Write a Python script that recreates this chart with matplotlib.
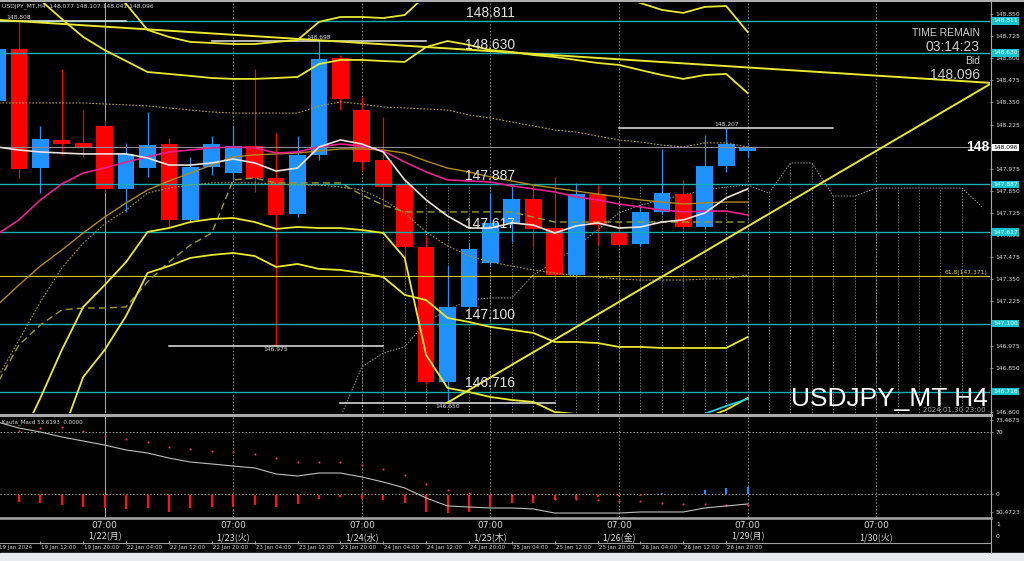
import numpy as np
import matplotlib
matplotlib.use("Agg")
import matplotlib.pyplot as plt
from matplotlib.patches import Rectangle
from matplotlib.transforms import blended_transform_factory

plt.rcParams['font.family'] = ['DejaVu Sans']

# ---------------- data (USDJPY_MT H4) ----------------
opens = [148.358, 148.652, 147.979, 148.138, 148.121, 148.217, 147.861, 147.979, 148.115, 147.686,
         147.985, 147.951, 148.104, 147.923, 147.719, 148.053, 148.601, 148.307, 148.025, 147.883,
         147.533, 146.770, 147.194, 147.442, 147.669, 147.804, 147.640, 147.375, 147.832, 147.612,
         147.550, 147.731, 147.832, 147.646, 147.991, 148.077]
highs = [148.700, 148.808, 148.217, 148.539, 148.307, 148.251, 148.121, 148.296, 148.149, 148.042,
         148.160, 148.223, 148.539, 148.177, 148.160, 148.698, 148.618, 148.381, 148.268, 147.912,
         147.595, 147.431, 147.555, 147.838, 147.872, 147.883, 147.929, 147.895, 147.883, 147.674,
         147.770, 148.087, 147.912, 148.166, 148.207, 148.107]
lows = [148.300, 147.923, 147.838, 148.053, 148.042, 147.838, 147.731, 147.929, 147.646, 147.674,
        147.940, 147.912, 147.844, 146.975, 147.705, 148.025, 148.307, 147.968, 147.753, 147.375,
        146.758, 146.650, 147.182, 147.431, 147.561, 147.533, 147.363, 147.363, 147.544, 147.533,
        147.539, 147.719, 147.629, 147.635, 147.957, 148.041]
closes = [148.652, 147.974, 148.143, 148.115, 148.098, 147.861, 148.059, 148.109, 147.686, 147.985,
          148.115, 148.104, 147.923, 147.714, 148.053, 148.596, 148.370, 148.013, 147.872, 147.533,
          146.770, 147.194, 147.522, 147.669, 147.804, 147.635, 147.375, 147.832, 147.657, 147.544,
          147.731, 147.838, 147.646, 147.991, 148.115, 148.096]

# outer bands (start bar index given separately)
band_a = [149.212, 149.070, 148.929, 148.822, 148.720, 148.646, 148.584, 148.522, 148.511, 148.500,
          148.488, 148.483, 148.483, 148.488, 148.494, 148.567, 148.590, 148.590, 148.584, 148.579,
          148.663, 148.697, 148.675, 148.646, 148.635, 148.618, 148.607, 148.590, 148.573, 148.562,
          148.533, 148.505, 148.483, 148.505, 148.511, 148.403]
band_a_start = 0
band_b = [149.183, 149.042, 148.907, 148.760, 148.720, 148.692, 148.686, 148.680, 148.680, 148.692,
          148.703, 148.805, 148.833, 148.833, 148.827, 148.844, 148.957, 149.070, 149.127, 149.155,
          149.155, 149.127, 149.099, 149.042, 148.997, 148.957, 148.912, 148.873, 148.856, 148.890,
          148.895, 148.748]
band_b_start = 4
band_c = [146.425, 146.679, 146.951, 147.194, 147.318, 147.448, 147.618, 147.640, 147.674, 147.691,
          147.697, 147.674, 147.635, 147.646, 147.640, 147.640, 147.629, 147.612, 147.471, 146.922,
          146.736, 146.713, 146.685, 146.668, 146.657, 146.600, 146.589, 146.589, 146.566, 146.566,
          146.589, 146.555, 146.566, 146.612, 146.679]
band_c_start = 1
band_d = [146.125, 146.470, 146.798, 146.951, 147.143, 147.386, 147.425, 147.471, 147.488, 147.499,
          147.482, 147.420, 147.437, 147.409, 147.403, 147.386, 147.363, 147.262, 147.233, 147.132,
          147.109, 147.081, 147.064, 147.047, 146.996, 146.996, 146.990, 146.968, 146.968, 146.962,
          146.962, 146.962, 146.962, 147.024]
band_d_start = 2

mid_dotted = [148.347, 148.347, 148.347, 148.347, 148.347, 148.341, 148.336, 148.330, 148.319, 148.307,
              148.296, 148.290, 148.290, 148.290, 148.290, 148.330, 148.353, 148.341, 148.324, 148.319,
              148.313, 148.307, 148.279, 148.262, 148.239, 148.217, 148.194, 148.183, 148.160, 148.138,
              148.126, 148.109, 148.098, 148.121, 148.121, 148.098]
low_dotted = [146.792, 147.007, 147.222, 147.414, 147.555, 147.663, 147.742, 147.838, 147.866, 147.883,
              147.895, 147.895, 147.895, 147.889, 147.883, 147.883, 147.872, 147.855, 147.799, 147.725,
              147.618, 147.539, 147.482, 147.448, 147.425, 147.403, 147.386, 147.369, 147.363, 147.352,
              147.346, 147.346, 147.346, 147.352, 147.352, 147.375]
gold_ma = [147.205, 147.318, 147.425, 147.516, 147.612, 147.702, 147.782, 147.855, 147.906, 147.951,
           147.996, 148.042, 148.053, 148.059, 148.064, 148.076, 148.087, 148.087, 148.081, 148.064,
           148.019, 147.979, 147.957, 147.929, 147.906, 147.883, 147.866, 147.849, 147.832, 147.816,
           147.799, 147.787, 147.776, 147.782, 147.787, 147.787]
kijun_dashed = [146.764, 146.979, 147.092, 147.177, 147.188, 147.188, 147.194, 147.335, 147.448, 147.544,
                147.612, 147.912, 147.923, 147.895, 147.895, 147.895, 147.895, 147.827, 147.770, 147.731,
                147.731, 147.731, 147.731, 147.731, 147.731, 147.702, 147.674, 147.674, 147.674, 147.674,
                147.674, 147.674, 147.674, 147.674, 147.674, 147.674]
white_ma = [148.098, 148.081, 148.070, 148.064, 148.059, 148.059, 148.059, 148.036, 147.996, 147.996,
            148.008, 148.030, 148.008, 147.962, 147.979, 148.098, 148.138, 148.115, 148.070, 147.912,
            147.799, 147.708, 147.640, 147.640, 147.669, 147.657, 147.612, 147.652, 147.669, 147.640,
            147.646, 147.674, 147.686, 147.725, 147.810, 147.861]
magenta_ma = [147.606, 147.686, 147.799, 147.889, 147.951, 147.979, 148.013, 148.042, 148.070, 148.081,
              148.093, 148.098, 148.093, 148.064, 148.070, 148.098, 148.115, 148.104, 148.076, 148.013,
              147.957, 147.912, 147.906, 147.900, 147.878, 147.861, 147.844, 147.816, 147.799, 147.776,
              147.759, 147.742, 147.731, 147.736, 147.736, 147.714]
span = [146.570, 146.855, 146.934, 146.968, 147.109, 147.177, 147.233, 147.245, 147.245, 147.375,
        147.448, 147.533, 147.629, 147.725, 147.770, 147.799, 147.827, 147.855, 147.872, 147.883,
        147.838, 148.008, 148.008, 147.821, 147.821, 147.866, 147.866, 147.866, 147.866, 147.866,
        147.753]
span_start = 16
cloud_top = [147.883] * 18 + [147.883, 147.838, 148.008, 148.008, 147.821, 147.821,
                              147.866, 147.866, 147.866, 147.866, 147.866]
cloud_start = 17
cyan_short = [146.590, 146.634, 146.674]
cyan_start = 33

levels = [148.811, 148.630, 147.887, 147.617, 147.100, 146.716]
fib_level = 147.371
bid = 148.096
marks = [("148.808", 1, 148.808, 'above'), ("148.698", 15, 148.698, 'above'),
         ("148.207", 34, 148.207, 'above'), ("146.975", 13, 146.975, 'below'),
         ("146.650", 21, 146.650, 'below')]

price_ticks = [146.600, 146.725, 146.850, 146.975, 147.100, 147.225, 147.350, 147.475, 147.600,
               147.725, 147.850, 147.975, 148.100, 148.225, 148.350, 148.475, 148.600, 148.725, 148.850]
price_tick_labels = ['146.600', '', '146.850', '146.975', '', '147.225', '147.350', '147.475', '147.600',
                     '147.725', '147.850', '147.975', '', '148.225', '148.350', '148.475', '148.600',
                     '148.725', '148.850']

# oscillator sub-window
osc_bars = [-9.0, -10.2, -12.4, -14.7, -15.8, -16.9, -15.8, -20.3, -15.8, -14.7, -14.7, -12.4, -14.7,
            -11.3, -5.6, -3.4, -5.6, -6.8, -10.2, -20.3, -21.5, -20.3, -14.7, -10.2, -10.2, -6.8,
            -5.6, -3.4, -2.3, -2.3, 1.1, -1.1, 4.5, 6.8, 7.9]
osc_dots = [71.1, 74.5, 75.6, 71.1, 65.5, 62.1, 58.7, 53.1, 50.8, 48.5, 47.4, 45.2, 40.6, 36.1, 36.1,
            36.1, 32.7, 28.2, 21.4, 11.3, 4.5, 1.1, -1.1, -1.1, -3.4, -5.6, -5.6, -6.8, -7.9, -7.9,
            -10.2, -11.3, -11.3, -12.4, -12.4]
osc_start = 1
osc_line = [81.3, 74.5, 70.0, 64.4, 59.8, 55.3, 49.7, 46.3, 40.6, 36.1, 33.9, 31.6, 29.4, 22.6, 20.3,
            23.7, 23.7, 19.2, 13.5, 6.8, -4.5, -13.5, -14.7, -15.8, -15.8, -16.9, -21.5, -21.5, -21.5,
            -21.5, -20.3, -20.3, -20.3, -15.8, -13.5, -11.3]
osc_ticks = [83.5, 70, 0, -20.3]
osc_tick_labels = ['73.4675', '70', '0', '50.4723']

day_bars = [5, 11, 17, 23, 29, 35, 41]
day_labels = ['1/22(月)', '1/23(火)', '1/24(水)', '1/25(木)', '1/26(金)', '1/29(月)', '1/30(火)']
time_bars = list(range(0, 35, 2))
time_labels = ['19 Jan 2024', '19 Jan 12:00', '19 Jan 20:00', '22 Jan 04:00', '22 Jan 12:00',
               '22 Jan 20:00', '23 Jan 04:00', '23 Jan 12:00', '23 Jan 20:00', '24 Jan 04:00',
               '24 Jan 12:00', '24 Jan 20:00', '25 Jan 04:00', '25 Jan 12:00', '25 Jan 20:00',
               '26 Jan 04:00', '26 Jan 12:00', '26 Jan 20:00']

# ---------------- layout ----------------
W, H = 1024, 561
fig = plt.figure(figsize=(W / 100, H / 100), dpi=100)
fig.patch.set_facecolor('black')


def rect(x0, y0, x1, y1):
    return [x0 / W, 1 - y1 / H, (x1 - x0) / W, (y1 - y0) / H]


XLIM = (0.117, 46.31)
LIB = ['Liberation Sans', 'DejaVu Sans']
JP = ['Noto Sans CJK JP', 'DejaVu Sans']

bg = fig.add_axes([0, 0, 1, 1], zorder=0)
bg.set_xlim(0, W)
bg.set_ylim(H, 0)
bg.axis('off')
bg.add_patch(Rectangle((0, 0), W, H, color='black'))
bg.add_patch(Rectangle((0, 553), W, 8, color='#e8ecf1'))
bg.plot([0, W], [1.2, 1.2], color='#b4b4b4', lw=1.4)
bg.plot([0, 991], [414.5, 414.5], color='#a8a8a8', lw=2.2)
bg.plot([0, 991], [518, 518], color='#a8a8a8', lw=1.8)
bg.plot([0, 991], [543, 543], color='#a0a0a0', lw=0.8)
bg.plot([990.5, 990.5], [2, 553], color='#a8a8a8', lw=0.8)

# ---------------- main window ----------------
ax = fig.add_axes(rect(0, 3, 990, 413), zorder=2)
ax.set_facecolor('none')
ax.set_xlim(*XLIM)
ax.set_ylim(146.5945, 148.912)

# day separators
for i, d in enumerate(day_bars):
    ax.axvline(d, color='#a0a0a0' if i == 0 else '#8c8c8c', lw=0.8 if i == 0 else 0.7,
               ls='-' if i == 0 else (0, (1.5, 2)), zorder=1)

# cloud hatch
ck = np.arange(cloud_start, cloud_start + len(cloud_top))
ax.vlines(ck, 146.5, cloud_top, colors='#8a8a8a', lw=0.6, linestyles=(0, (1.5, 2)), zorder=1)
sk = np.arange(span_start, span_start + len(span))
ax.plot(sk, span, color='#9a9a9a', lw=0.7, ls=(0, (1.5, 1.5)), zorder=1)

# candles
bars = np.arange(len(opens))
o, h, l, c = map(np.array, (opens, highs, lows, closes))
cols = np.where(c >= o, '#1e90ff', '#ff0000')
ax.vlines(bars, l, h, colors=cols, lw=0.9, zorder=2)
ax.bar(bars, np.maximum(np.abs(c - o), 0.007), bottom=np.minimum(o, c), width=0.78,
       color=cols, linewidth=0, zorder=2.1)

# horizontal levels
for lv in levels:
    ax.axhline(lv, color='#17b0b0', lw=1.0, zorder=3)
    ax.annotate(f'{lv:.3f}', xy=(23.0, lv), xytext=(0, 0.8), textcoords='offset points',
                ha='center', va='bottom', fontsize=10, color='#e2e2e2', family=LIB, zorder=7)
ax.axhline(fib_level, color='#c8c810', lw=0.8, zorder=3)
ax.annotate(f'61.8({fib_level:.3f})', xy=(46.2, fib_level), xytext=(0, 0.5), textcoords='offset points',
            ha='right', va='bottom', fontsize=4.3, color='#d8d820', zorder=7)
ax.axhline(bid, color='#8c8c8c', lw=0.8, zorder=3)

# high / low markers
for txt, kb, pr, pos in marks:
    ax.plot([kb - 5, kb + 5], [pr, pr], color='#e6e6e6', lw=1.1, zorder=4)
    ax.annotate(txt, xy=(kb, pr), xytext=(0, 0.8 if pos == 'above' else -0.8), textcoords='offset points',
                ha='center', va='bottom' if pos == 'above' else 'top', fontsize=4.3, color='#d8d8d8', zorder=7)

# indicator lines
ax.plot(np.arange(len(mid_dotted)), mid_dotted, color='#b4a02c', lw=0.8, ls=(0, (1.5, 1.5)), zorder=4)
ax.plot(np.arange(len(low_dotted)), low_dotted, color='#a89a2a', lw=0.8, ls=(0, (1.5, 1.5)), zorder=4)
ax.plot(np.arange(len(gold_ma)), gold_ma, color='#b08a1c', lw=1.0, zorder=4)
ax.plot(np.arange(len(kijun_dashed)), kijun_dashed, color='#9a9a2c', lw=1.0, ls=(0, (5, 3)), zorder=4)
ax.plot(np.arange(len(magenta_ma)), magenta_ma, color='#e8208e', lw=1.2, zorder=4.2)
ax.plot(np.arange(len(white_ma)), white_ma, color='#ece4dc', lw=1.2, zorder=4.3)
for band, st in ((band_a, band_a_start), (band_b, band_b_start), (band_c, band_c_start), (band_d, band_d_start)):
    ax.plot(np.arange(st, st + len(band)), band, color='#e8e830', lw=1.3, zorder=4.5)
ax.plot(np.arange(cyan_start, cyan_start + len(cyan_short)), cyan_short, color='#20d0e0', lw=1.3, zorder=4.5)

# trend lines (touch points)
ax.plot([0.117, 46.4], [148.816, 148.460], color='#e8e830', lw=1.4, zorder=4.6)
ax.plot([20.98, 46.4], [146.652, 148.460], color='#e8e830', lw=1.4, zorder=4.6)

# right price scale
ax.yaxis.tick_right()
ax.set_yticks(price_ticks)
ax.set_yticklabels(price_tick_labels)
ax.tick_params(axis='y', color='#a0a0a0', labelcolor='#dcdcdc', labelsize=4.3, length=2.5,
               width=0.6, pad=1.5)
ax.set_xticks([])
for s in ax.spines.values():
    s.set_visible(False)
tr = blended_transform_factory(ax.transAxes, ax.transData)
for lv in levels:
    ax.text(1.003, lv, f'{lv:.3f}', transform=tr, fontsize=4.3, color='white', va='center', ha='left',
            bbox=dict(facecolor='#14c4c8', edgecolor='none', pad=0.9), clip_on=False, zorder=8)
ax.text(1.003, bid, f'{bid:.3f}', transform=tr, fontsize=4.3, color='black', va='center', ha='left',
        bbox=dict(facecolor='white', edgecolor='none', pad=0.9), clip_on=False, zorder=8)

# ---------------- oscillator window ----------------
ax2 = fig.add_axes(rect(0, 416, 990, 517), zorder=2)
ax2.set_facecolor('none')
ax2.set_xlim(*XLIM)
ax2.set_ylim(-25.97, 88.06)
for i, d in enumerate(day_bars):
    ax2.axvline(d, color='#a0a0a0' if i == 0 else '#8c8c8c', lw=0.8 if i == 0 else 0.7,
                ls='-' if i == 0 else (0, (1.5, 2)), zorder=1)
ax2.axhline(70, color='#a0a0a0', lw=0.7, ls=(0, (1.5, 2)))
ax2.axhline(0, color='#a0a0a0', lw=0.7, ls=(0, (1.5, 2)))
ob = np.arange(osc_start, osc_start + len(osc_bars))
ov = np.array(osc_bars)
ax2.vlines(ob, np.where(ov < 0, -1.0, 0.0), ov, colors=np.where(ov < 0, '#ff1020', '#2090ff'), lw=1.6, zorder=3)
ax2.scatter(ob, osc_dots, s=2.2, color='#ff3070', linewidths=0, zorder=4)
ax2.plot(np.arange(len(osc_line)), osc_line, color='#bdbdbd', lw=0.8, zorder=4)
ax2.yaxis.tick_right()
ax2.set_yticks(osc_ticks)
ax2.set_yticklabels(osc_tick_labels)
ax2.tick_params(axis='y', color='#a0a0a0', labelcolor='#dcdcdc', labelsize=4.3, length=2.5,
                width=0.6, pad=1.5)
ax2.set_xticks([])
for s in ax2.spines.values():
    s.set_visible(False)

# ---------------- time strip ----------------
ax3 = fig.add_axes(rect(0, 519, 990, 553), zorder=2)
ax3.set_facecolor('none')
ax3.set_xlim(*XLIM)
ax3.set_ylim(34, 0)
ax3.axis('off')
for d, lab in zip(day_bars, day_labels):
    ax3.text(d, 6.5, '07:00', ha='center', va='center', fontsize=6.5, color='#d8d8d8')
    ax3.text(d, 18, lab, ha='center', va='center', fontsize=6.5, color='#d8d8d8', family=JP)
ax3.vlines(time_bars, 21.5, 24.5, colors='#b0b0b0', lw=0.6)
for tb, lab in zip(time_bars, time_labels):
    ax3.text(tb + 0.05, 28.5, lab, ha='left', va='center', fontsize=4.0, color='#d0d0d0')

# ---------------- overlay texts ----------------
def ftext(x, y, s, **kw):
    fig.text(x / W, 1 - y / H, s, **kw)

ftext(2, 6.5, 'USDJPY_MT,H4  148.077 148.107 148.041 148.096', fontsize=4.3, color='#d8d8d8', va='center')
ftext(2, 422, 'Kauta_Macd 53.6193  0.0000', fontsize=4.0, color='#d8d8d8', va='center')
ftext(980, 33, 'TIME REMAIN', fontsize=7.5, color='#cfcfcf', ha='right', va='center', family=LIB)
ftext(980, 47, '03:14:23', fontsize=10, color='#cfcfcf', ha='right', va='center', family=LIB)
ftext(980, 61, 'Bid', fontsize=7.5, color='#cfcfcf', ha='right', va='center', family=LIB)
ftext(980, 75, '148.096', fontsize=10, color='#cfcfcf', ha='right', va='center', family=LIB)
ftext(989, 147, '148', fontsize=10, color='white', ha='right', va='center', weight='bold', family=LIB)
ftext(988, 406, 'USDJPY_MT H4', fontsize=19, color='white', ha='right', va='baseline', family=LIB)
ftext(986, 409.5, '2024.01.30 23:00', fontsize=5, color='#a8a8a8', ha='right', va='center')
ftext(996, 525, '1', fontsize=4.3, color='#dcdcdc', ha='left', va='center')
ftext(996, 537, '0', fontsize=4.3, color='#dcdcdc', ha='left', va='center')

fig.savefig('out.png', dpi=100, facecolor='black')
